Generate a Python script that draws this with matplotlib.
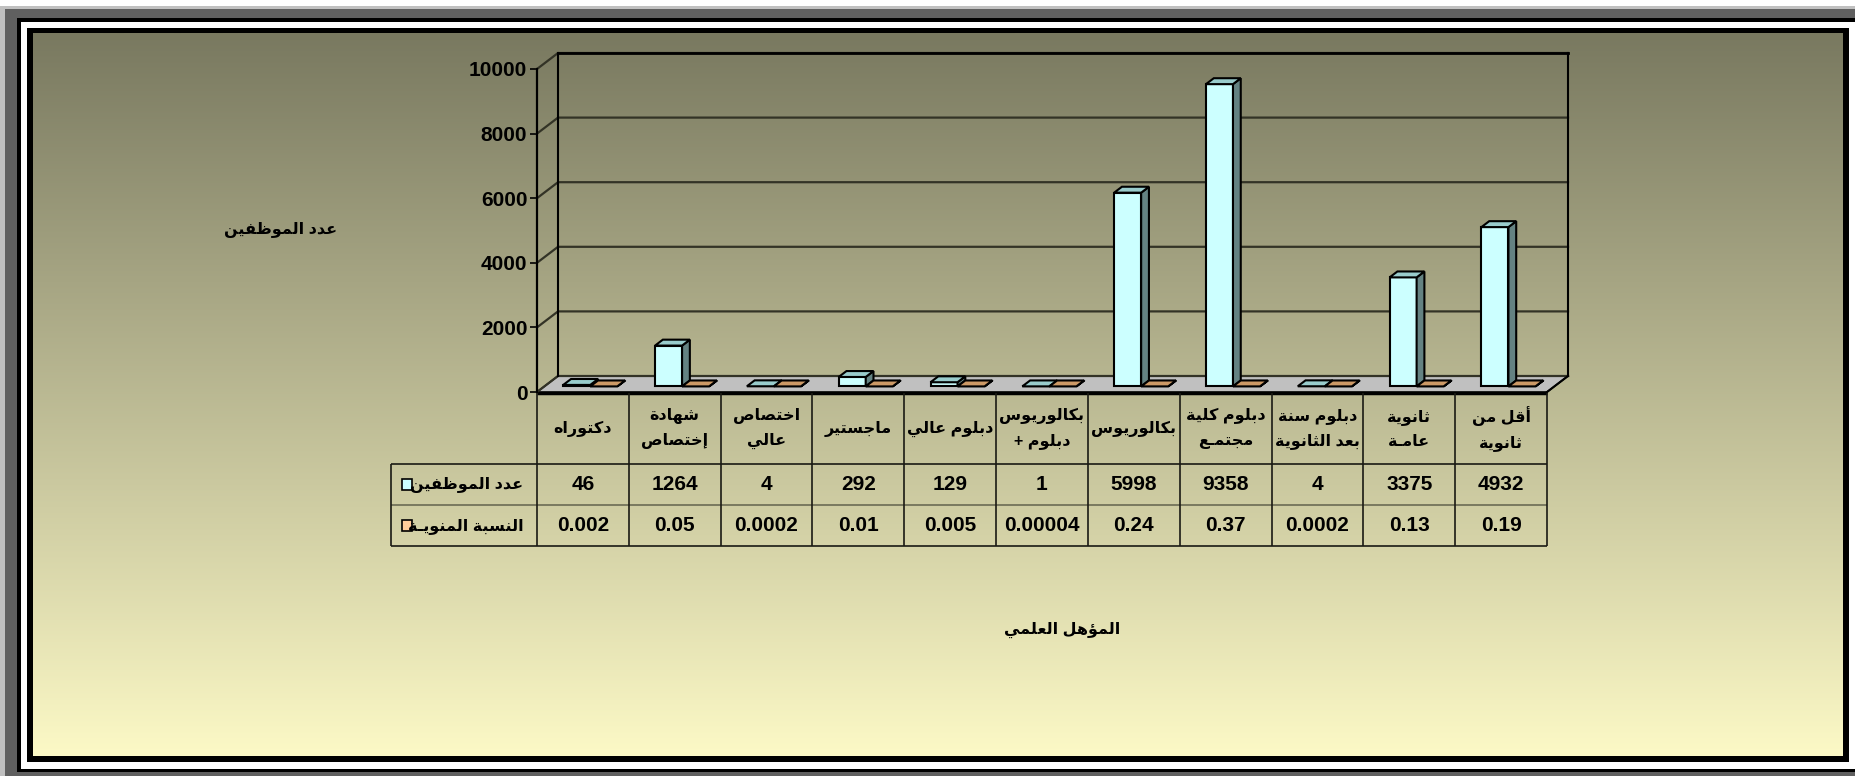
# plot.py
# 3D-style column chart (Excel look) of employees by qualification, with a data table underneath
import matplotlib
matplotlib.use('Agg')
import matplotlib.pyplot as plt
from matplotlib.patches import Rectangle, Polygon
import numpy as np

# ---- data (left to right as in the chart) ----
categories = ['دكتوراه', 'شهادة\nإختصاص', 'اختصاص\nعالي', 'ماجستير', 'دبلوم عالي',
              'بكالوريوس\n' + 'دبلوم' + ' +', 'بكالوريوس', 'دبلوم كلية\nمجتمـع',
              'دبلوم سنة\nبعد الثانوية', 'ثانوية\nعامـة', 'أقل من\nثانوية']
counts = [46, 1264, 4, 292, 129, 1, 5998, 9358, 4, 3375, 4932]
percents = [0.002, 0.05, 0.0002, 0.01, 0.005, 0.00004, 0.24, 0.37, 0.0002, 0.13, 0.19]
seriesNames = ['عدد الموظفين', 'النسبة المنويـة']
yTicks = [0, 2000, 4000, 6000, 8000, 10000]
yLabel = 'عدد الموظفين'
xLabel = 'المؤهل العلمي'

W_PX, H_PX = 1856, 776
FONTS = ['Liberation Sans', 'DejaVu Sans']
AR_SIZE = 11.5
NUM_SIZE = 15

# ---- minimal arabic shaping (matplotlib has no bidi / shaping) ----
TATWEEL = '\u0640'
FORMS = {'ء': (0xFE80, None, None, None)}
for c, base in [('آ', 0xFE81), ('أ', 0xFE83), ('ؤ', 0xFE85), ('إ', 0xFE87), ('ا', 0xFE8D),
                ('ة', 0xFE93), ('د', 0xFEA9), ('ذ', 0xFEAB), ('ر', 0xFEAD), ('ز', 0xFEAF),
                ('و', 0xFEED), ('ى', 0xFEEF)]:
    FORMS[c] = (base, base + 1, None, None)
for c, base in [('ئ', 0xFE89), ('ب', 0xFE8F), ('ت', 0xFE95), ('ث', 0xFE99), ('ج', 0xFE9D),
                ('ح', 0xFEA1), ('خ', 0xFEA5), ('س', 0xFEB1), ('ش', 0xFEB5), ('ص', 0xFEB9),
                ('ض', 0xFEBD), ('ط', 0xFEC1), ('ظ', 0xFEC5), ('ع', 0xFEC9), ('غ', 0xFECD),
                ('ف', 0xFED1), ('ق', 0xFED5), ('ك', 0xFED9), ('ل', 0xFEDD), ('م', 0xFEE1),
                ('ن', 0xFEE5), ('ه', 0xFEE9), ('ي', 0xFEF1)]:
    FORMS[c] = (base, base + 1, base + 2, base + 3)
LAMALEF = {'آ': (0xFEF5, 0xFEF6), 'أ': (0xFEF7, 0xFEF8), 'إ': (0xFEF9, 0xFEFA), 'ا': (0xFEFB, 0xFEFC)}


def joinsNext(c):
    return c == TATWEEL or (c in FORMS and FORMS[c][2] is not None)


def isLetter(c):
    return c == TATWEEL or c in FORMS


def shapeLine(text):
    out = []
    i = 0
    while i < len(text):
        c = text[i]
        if c not in FORMS:
            out.append(c)
            i += 1
            continue
        prevJoin = i > 0 and joinsNext(text[i - 1])
        nxt = text[i + 1] if i + 1 < len(text) else ''
        if c == 'ل' and nxt in LAMALEF:
            iso, fin = LAMALEF[nxt]
            out.append(chr(fin if prevJoin else iso))
            i += 2
            continue
        f = FORMS[c]
        nextJoin = f[2] is not None and isLetter(nxt)
        if prevJoin and nextJoin:
            code = f[3]
        elif prevJoin:
            code = f[1] if f[1] else f[0]
        elif nextJoin:
            code = f[2]
        else:
            code = f[0]
        out.append(chr(code))
        i += 1
    return ''.join(reversed(out))


def ar(text):
    return '\n'.join(shapeLine(line) for line in text.split('\n'))


# ---- helpers ----
def figBox(x0, y0, x1, y1):
    # pixel box (from top-left) -> figure fraction [left, bottom, width, height]
    return [x0 / W_PX, 1 - y1 / H_PX, (x1 - x0) / W_PX, (y1 - y0) / H_PX]


def pxRect(fig, x0, y0, x1, y1, color):
    l, b, w, h = figBox(x0, y0, x1, y1)
    fig.patches.append(Rectangle((l, b), w, h, transform=fig.transFigure,
                                 facecolor=color, edgecolor='none', zorder=-10))


def drawBar(ax, x0, w, value, d0, d1, dx, dy, front, top, side):
    fx, fy = x0 + d0 * dx, d0 * dy
    bx, by = x0 + d1 * dx, d1 * dy
    kw = dict(edgecolor='black', linewidth=1.5, joinstyle='miter', clip_on=False)
    ax.add_patch(Polygon([(fx, fy), (fx + w, fy), (fx + w, fy + value), (fx, fy + value)],
                         facecolor=front, zorder=5, **kw))
    ax.add_patch(Polygon([(fx + w, fy), (bx + w, by), (bx + w, by + value), (fx + w, fy + value)],
                         facecolor=side, zorder=5, **kw))
    ax.add_patch(Polygon([(fx, fy + value), (fx + w, fy + value), (bx + w, by + value), (bx, by + value)],
                         facecolor=top, zorder=5, **kw))


def main():
    plt.rcParams['font.family'] = FONTS
    plt.rcParams['font.weight'] = 'bold'
    fig = plt.figure(figsize=(W_PX / 100, H_PX / 100), dpi=100, facecolor='white')

    # outer frames
    pxRect(fig, 0, 6, 1900, 800, '#c0c0c0')
    pxRect(fig, 5, 9, 1900, 800, '#606060')
    pxRect(fig, 17, 18, 1900, 772, '#000000')
    pxRect(fig, 21, 22, 1900, 769, '#ffffff')
    pxRect(fig, 27, 28, 1849, 762, '#000000')

    # gradient chart background
    bg = fig.add_axes(figBox(33, 33, 1843, 756), zorder=0)
    topC = np.array([121, 121, 96]) / 255.0
    botC = np.array([252, 249, 198]) / 255.0
    t = np.linspace(0, 1, 256)[:, None]
    grad = (topC[None, :] * (1 - t) + botC[None, :] * t)[:, None, :]
    bg.imshow(grad, aspect='auto', extent=(0, 1, 0, 1), interpolation='bilinear')
    bg.set_axis_off()

    nCat = len(categories)
    ax = fig.add_axes(figBox(537, 69, 1547, 392), zorder=2)
    ax.set_xlim(0, nCat)
    ax.set_ylim(0, yTicks[-1])
    ax.patch.set_visible(False)

    # depth of the 3d box in data units (21 px right, 16 px up)
    pxPerCat = 1010.0 / nCat
    pxPerVal = 323.0 / yTicks[-1]
    DX = 21.0 / pxPerCat
    DY = 16.0 / pxPerVal

    # floor
    ax.add_patch(Polygon([(0, 0), (nCat, 0), (nCat + DX, DY), (DX, DY)], facecolor='#c0c0c0',
                         edgecolor='black', linewidth=1.2, zorder=1, clip_on=False))
    # grid on the side and back walls
    for v in yTicks:
        ax.plot([0, DX, nCat + DX], [v, v + DY, v + DY], color='#333326', linewidth=1.6,
                zorder=2, clip_on=False)
    ax.plot([DX, DX], [DY, yTicks[-1] + DY], color='black', linewidth=1.5, zorder=2, clip_on=False)
    ax.plot([nCat + DX, nCat + DX], [DY, yTicks[-1] + DY], color='black', linewidth=1.5,
            zorder=2, clip_on=False)
    ax.plot([DX, nCat + DX], [yTicks[-1] + DY] * 2, color='black', linewidth=2, zorder=2, clip_on=False)
    ax.plot([nCat, nCat + DX], [0, DY], color='black', linewidth=1.5, zorder=2, clip_on=False)

    # bars
    barW = 27.0 / pxPerCat
    gap = (1 - 2 * barW) / 2
    for i in range(nCat):
        x0 = i + gap
        drawBar(ax, x0, barW, counts[i], 0.35, 0.72, DX, DY, '#ccffff', '#99cccc', '#648282')
        drawBar(ax, x0 + barW, barW, percents[i], 0.35, 0.72, DX, DY, '#ffcc99', '#cc9966', '#99774f')

    # value axis
    for s in ['top', 'right', 'bottom']:
        ax.spines[s].set_visible(False)
    ax.spines['left'].set_linewidth(1.6)
    ax.set_xticks([])
    ax.set_yticks(yTicks)
    ax.set_yticklabels([str(v) for v in yTicks])
    ax.tick_params(axis='y', length=5, width=1.2, direction='out', pad=2, labelsize=15)
    for lbl in ax.get_yticklabels():
        lbl.set_fontweight('bold')

    # data table
    LEG = 146.0 / pxPerCat
    hdr = 1.75
    tab = fig.add_axes(figBox(537 - 146, 393, 1547, 546), zorder=1)
    tab.set_xlim(-LEG, nCat)
    tab.set_ylim(hdr + 2, 0)
    tab.set_axis_off()
    lineC = '#1a1a14'
    tab.hlines(0, 0, nCat, color='black', linewidth=2.5, clip_on=False)
    tab.hlines([hdr, hdr + 2], -LEG, nCat, color=lineC, linewidth=1.2, clip_on=False)
    tab.hlines(hdr + 1, -LEG, nCat, color='#6b6b55', linewidth=1.2, clip_on=False)
    tab.vlines(np.arange(nCat + 1), 0, hdr + 2, color=lineC, linewidth=1.2, clip_on=False)
    tab.vlines(-LEG, hdr, hdr + 2, color=lineC, linewidth=1.2, clip_on=False)

    for i, name in enumerate(categories):
        tab.text(i + 0.5, hdr / 2, ar(name), ha='center', va='center', fontsize=AR_SIZE,
                 fontweight='bold', linespacing=1.75)
        tab.text(i + 0.5, hdr + 0.5, str(counts[i]), ha='center', va='center',
                 fontsize=NUM_SIZE, fontweight='bold')
        tab.text(i + 0.5, hdr + 1.5, np.format_float_positional(percents[i]), ha='center',
                 va='center', fontsize=NUM_SIZE, fontweight='bold')

    keyColors = ['#ccffff', '#ffcc99']
    keyW = 10.0 / pxPerCat
    for r, name in enumerate(seriesNames):
        yc = hdr + r + 0.5
        tab.add_patch(Rectangle((-LEG + 11.0 / pxPerCat, yc - 0.13), keyW, 0.26, facecolor=keyColors[r],
                                edgecolor='black', linewidth=1.2, clip_on=False))
        tab.text(-0.15, yc, ar(name), ha='right', va='center', fontsize=AR_SIZE, fontweight='bold')

    # axis titles
    fig.text(281 / W_PX, 1 - 230 / H_PX, ar(yLabel), ha='center', va='center', fontsize=AR_SIZE,
             fontweight='bold')
    fig.text(1062 / W_PX, 1 - 630 / H_PX, ar(xLabel), ha='center', va='center', fontsize=AR_SIZE,
             fontweight='bold')

    fig.savefig('out.png', dpi=100, facecolor='white')
    plt.close(fig)


if __name__ == '__main__':
    main()
